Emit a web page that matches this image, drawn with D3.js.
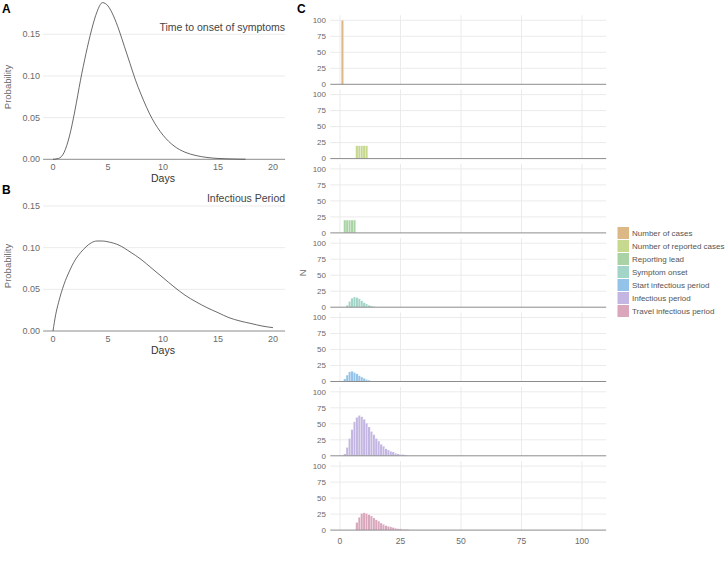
<!DOCTYPE html>
<html><head><meta charset="utf-8">
<script src="https://cdn.jsdelivr.net/npm/d3@7"></script>
<style>
body{margin:0;background:#fff}
svg{display:block}
text{font-family:"Liberation Sans",Arial,sans-serif}
</style>
</head><body>
<svg id="chart" width="727" height="562"></svg>
<script>
// ---- Panel A: time to onset of symptoms
const incubationDays = [0,0.5,1,1.5,2,2.5,3,3.5,4,4.5,5,5.5,6,6.5,7,7.5,8,9,10,11,12,13,14,15,16,17,17.5];
const incubationProb = [0,0.001,0.008,0.028,0.059,0.095,0.127,0.155,0.177,0.188,0.184,0.172,0.155,0.135,0.115,0.095,0.078,0.049,0.029,0.016,0.0085,0.0045,0.0022,0.001,0.0005,0.0002,0.0001];
// ---- Panel B: infectious period
const infectiousDays = [0,0.25,0.5,1,1.5,2,2.5,3,3.5,4,4.5,5,6,7,8,9,10,11,12,13,14,15,16,17,18,19,20];
const infectiousProb = [0,0.02,0.034,0.056,0.072,0.085,0.094,0.101,0.106,0.108,0.108,0.107,0.103,0.095,0.086,0.075,0.064,0.053,0.043,0.035,0.028,0.022,0.016,0.012,0.009,0.006,0.004];
const xTicksAB = [0,5,10,15,20];
const yTicksAB = [0,0.05,0.10,0.15];

// ---- Panel C: counts per day for each series
const seriesNames = ["Number of cases","Number of reported cases","Reporting lead","Symptom onset","Start infectious period","Infectious period","Travel infectious period"];
const seriesColors = ["#ddb887","#c7d98f","#aad3a5","#a2d4c8","#93c3e8","#c4b6e2","#d9a6bc"];
const casesDays = [1];
const casesN = [100];
const reportedDays = [7,8,9,10,11];
const reportedN = [20,20,20,20,20];
const leadDays = [2,3,4,5,6];
const leadN = [20,20,20,20,20];
const onsetDays = [3,4,5,6,7,8,9,10,11,12,13,14];
const onsetN = [3,9,14,16,15,13,10,7,5,3,2,1];
const startInfDays = [2,3,4,5,6,7,8,9,10,11,12];
const startInfN = [4,10,15,16,14,12,9,7,5,3,2];
const infPeriodDays = [2,3,4,5,6,7,8,9,10,11,12,13,14,15,16,17,18,19,20,21,22,23,24,25,26,27];
const infPeriodN = [3,13,27,41,53,60,63,61,57,51,45,38,33,27,23,18,15,11,9,7,6,4,3,2,2,1];
const travelDays = [7,8,9,10,11,12,13,14,15,16,17,18,19,20,21,22,23,24,25,26,27,28];
const travelN = [12,20,26,27,26,24,22,19,16,14,11,9,7,6,5,4,3,2,2,1,1,1];
const xTicksC = [0,25,50,75,100];
const yTicksC = [0,25,50,75,100];

const seriesDays = [casesDays,reportedDays,leadDays,onsetDays,startInfDays,infPeriodDays,travelDays];
const seriesN = [casesN,reportedN,leadN,onsetN,startInfN,infPeriodN,travelN];

const svg = d3.select("#chart");
const grid = "#ebebeb", axisCol = "#8c8c8c", tickCol = "#6a6a6a";

// ---------- density panels ----------
function densityPanel(opts){
  const g = svg.append("g");
  const x = d3.scaleLinear().domain([0,20]).range([53,273]);
  const y = d3.scaleLinear().domain([0,0.15]).range([opts.y0, opts.y0-125]);
  const x0 = x(-0.9), x1 = x(21.1);
  g.selectAll("line.gy").data(yTicksAB.slice(1)).join("line")
    .attr("x1",x0).attr("x2",x1).attr("y1",d=>y(d)).attr("y2",d=>y(d))
    .attr("stroke",grid).attr("stroke-width",1);
  g.append("line").attr("x1",x0).attr("x2",x1).attr("y1",y(0)).attr("y2",y(0))
    .attr("stroke",axisCol).attr("stroke-width",1);
  g.selectAll("text.yt").data(yTicksAB).join("text")
    .attr("x",40).attr("y",d=>y(d)).attr("dy","0.35em").attr("text-anchor","end")
    .attr("font-size",9).attr("fill",tickCol).text(d=>d3.format(".2f")(d));
  g.selectAll("text.xt").data(xTicksAB).join("text")
    .attr("x",d=>x(d)).attr("y",y(0)+8).attr("dy","0.35em").attr("text-anchor","middle")
    .attr("font-size",9).attr("fill",tickCol).text(d=>d);
  g.append("text").attr("x",x(10)).attr("y",y(0)+19).attr("dy","0.35em").attr("text-anchor","middle")
    .attr("font-size",10.5).attr("fill","#333").text("Days");
  g.append("text").attr("transform",`translate(8,${opts.labelY}) rotate(-90)`).attr("dy","0.35em")
    .attr("text-anchor","middle").attr("font-size",9.5).attr("fill",tickCol).text("Probability");
  g.append("text").attr("x",x1).attr("y",opts.titleY).attr("dy","0.35em").attr("text-anchor","end")
    .attr("font-size",10.5).attr("fill","#444").text(opts.title);
  g.append("text").attr("x",2).attr("y",opts.letterY).attr("font-size",12).attr("font-weight","bold")
    .attr("fill","#000").text(opts.letter);
  const line = d3.line().x((d,i)=>x(opts.days[i])).y(d=>y(d)).curve(d3.curveMonotoneX);
  g.append("path").attr("d",line(opts.probs)).attr("fill","none").attr("stroke","#444").attr("stroke-width",0.8);
}
densityPanel({y0:159.3,days:incubationDays,probs:incubationProb,title:"Time to onset of symptoms",titleY:27,labelY:87,letter:"A",letterY:13});
densityPanel({y0:331,days:infectiousDays,probs:infectiousProb,title:"Infectious Period",titleY:198,labelY:266,letter:"B",letterY:194});

// ---------- faceted histogram panel ----------
const xc = d3.scaleLinear().domain([-4,110]).range([330.3,606.2]);
const rowPitch = 74.3, firstBottom = 84.3;
const gc = svg.append("g");
seriesNames.forEach((name,i)=>{
  const bottom = firstBottom + i*rowPitch;
  const yc = d3.scaleLinear().domain([0,100]).range([bottom,bottom-64]);
  const top = bottom - 69;
  const g = gc.append("g");
  g.selectAll("line.gv").data(xTicksC).join("line")
    .attr("x1",d=>xc(d)).attr("x2",d=>xc(d)).attr("y1",top).attr("y2",bottom)
    .attr("stroke",grid).attr("stroke-width",1);
  g.selectAll("line.gh").data(yTicksC.slice(1)).join("line")
    .attr("x1",xc.range()[0]).attr("x2",xc.range()[1]).attr("y1",d=>yc(d)).attr("y2",d=>yc(d))
    .attr("stroke",grid).attr("stroke-width",1);
  const days = seriesDays[i], ns = seriesN[i];
  g.selectAll("rect").data(ns).join("rect")
    .attr("x",(d,j)=>xc(days[j]-0.5)).attr("width",xc(1)-xc(0))
    .attr("y",d=>yc(d)).attr("height",d=>yc(0)-yc(d))
    .attr("fill",seriesColors[i]).attr("stroke","#fff").attr("stroke-width",0.35).attr("stroke-opacity",0.7);
  g.append("line").attr("x1",xc.range()[0]).attr("x2",xc.range()[1]).attr("y1",bottom).attr("y2",bottom)
    .attr("stroke",axisCol).attr("stroke-width",1);
  g.selectAll("text.yt").data(yTicksC).join("text")
    .attr("x",326).attr("y",d=>yc(d)).attr("dy","0.35em").attr("text-anchor","end")
    .attr("font-size",8).attr("fill",tickCol).text(d=>d);
});
const lastBottom = firstBottom + 6*rowPitch;
gc.selectAll("text.xt").data(xTicksC).join("text")
  .attr("x",d=>xc(d)).attr("y",lastBottom+10.5).attr("dy","0.35em").attr("text-anchor","middle")
  .attr("font-size",8.5).attr("fill",tickCol).text(d=>d);
gc.append("text").attr("transform",`translate(303,${(firstBottom-69+lastBottom)/2}) rotate(-90)`)
  .attr("dy","0.35em").attr("text-anchor","middle").attr("font-size",9.5).attr("fill",tickCol).text("N");
gc.append("text").attr("x",297).attr("y",13).attr("font-size",12).attr("font-weight","bold").text("C");

// legend
const lg = svg.append("g");
seriesNames.forEach((name,i)=>{
  const cy = 233 + i*13;
  lg.append("rect").attr("x",617.5).attr("y",cy-6).attr("width",11.5).attr("height",12).attr("fill",seriesColors[i]);
  lg.append("text").attr("x",632).attr("y",cy).attr("dy","0.35em").attr("font-size",8)
    .attr("fill","#555").text(name);
});
</script>
</body></html>
